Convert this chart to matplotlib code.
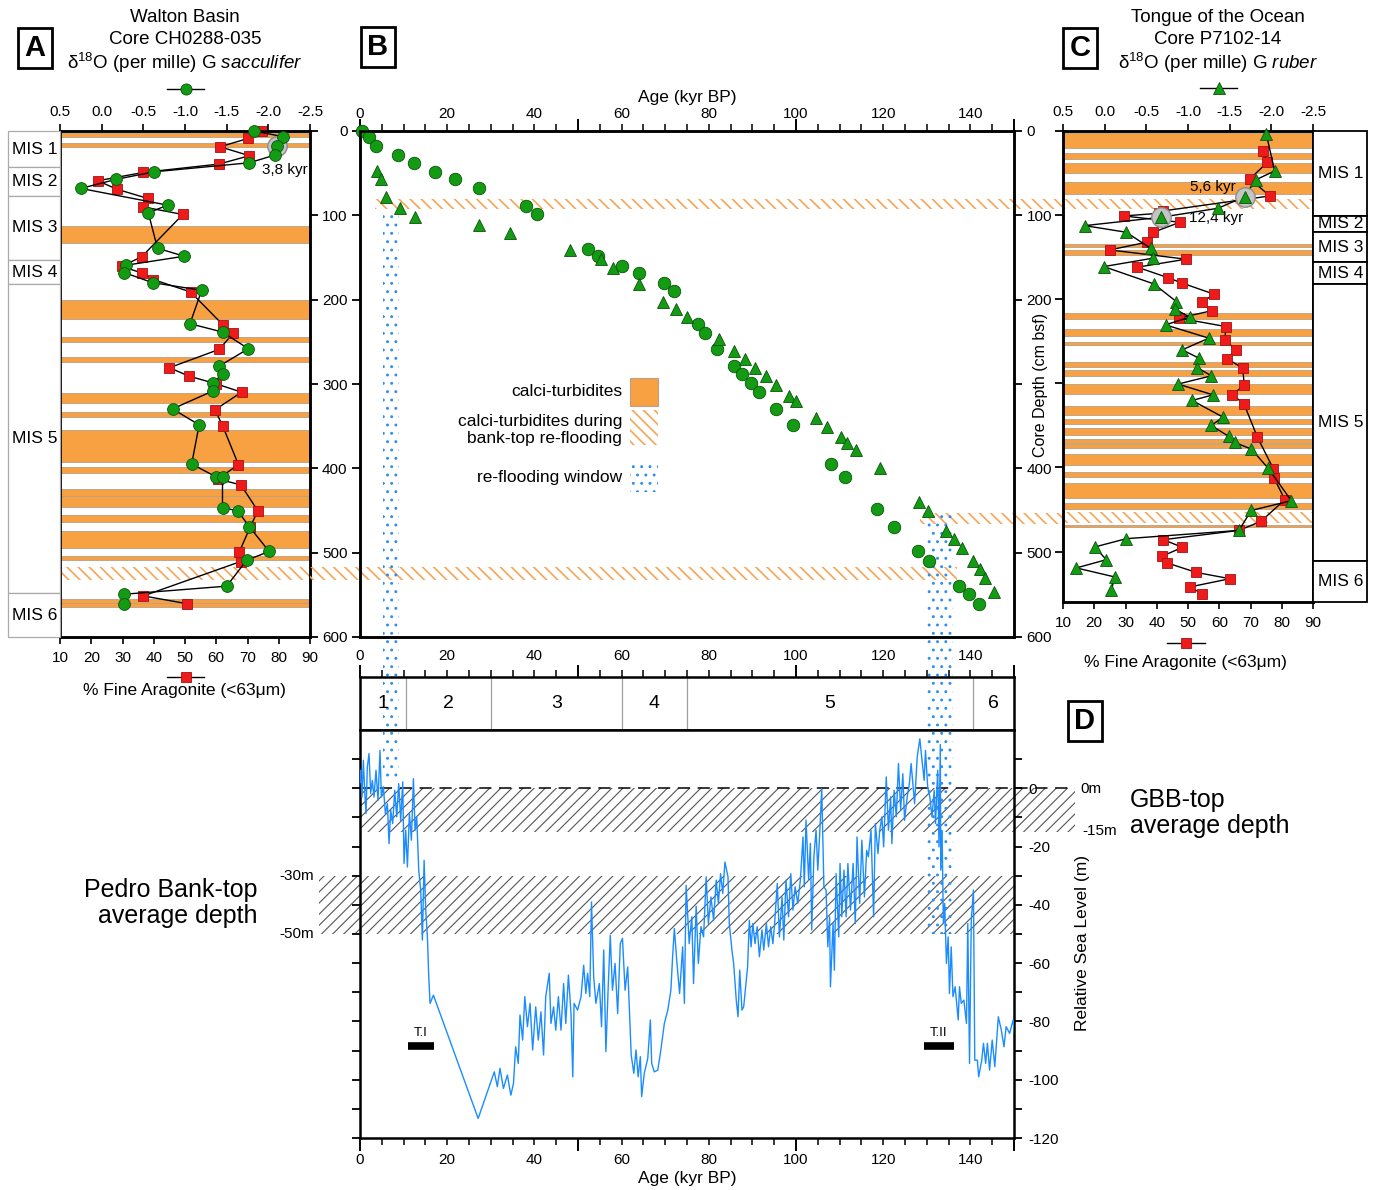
import numpy as np
import matplotlib
matplotlib.use("Agg")
import matplotlib.pyplot as plt
from matplotlib.patches import Rectangle
from matplotlib.lines import Line2D
from matplotlib.ticker import MultipleLocator, FixedLocator, FormatStrFormatter

plt.rcParams['font.family'] = ['Liberation Sans', 'DejaVu Sans']
plt.rcParams['axes.unicode_minus'] = False
plt.rcParams['hatch.linewidth'] = 0.9
plt.rcParams['mathtext.fontset'] = 'custom'
plt.rcParams['mathtext.rm'] = 'Liberation Sans'
plt.rcParams['mathtext.it'] = 'Liberation Sans:italic'
plt.rcParams['xtick.labelsize'] = 11
plt.rcParams['ytick.labelsize'] = 11
plt.rcParams['axes.linewidth'] = 1.6

# ---------------- data ----------------
# panel A, core CH0288-035 (Walton Basin)
a_iso_depth = [0, 6.8, 17.5, 28.5, 37.7, 48.4, 57.4, 68.1, 87.9, 97.1, 139, 148.5, 159.2, 167.9,
               179.8, 188.9, 228.5, 238.4, 258.2, 278.8, 288.7, 298.6, 308.5, 329.5, 348.5, 394.8,
               410, 410.7, 447, 450, 469, 498.6, 508.9, 539.7, 549.3, 560.4]
a_iso = [-1.83, -2.18, -2.10, -2.08, -1.77, -0.63, -0.17, 0.25, -0.79, -0.56, -0.67, -0.99, -0.29,
         -0.27, -0.61, -1.20, -1.06, -1.45, -1.76, -1.41, -1.45, -1.33, -1.33, -0.85, -1.17, -1.08,
         -1.37, -1.45, -1.45, -1.63, -1.77, -2.01, -1.74, -1.50, -0.27, -0.27]
a_arag_depth = [0, 8.7, 18.7, 29.3, 39.2, 49.1, 59, 68.9, 80, 89.9, 99, 149.3, 160.4, 168.3, 176.2,
                190.9, 230.5, 239.6, 259, 280.7, 290.7, 299.7, 309.7, 330.6, 350.1, 395.6, 412.6,
                419.7, 450.3, 470.1, 499.8, 510.5, 551.3, 560.4]
a_arag = [74.7, 70.3, 61.2, 70.6, 60.9, 36.7, 22.1, 28.1, 38.1, 36.5, 49.3, 36.1, 29.7, 36.1, 39.9,
          51.8, 62.3, 65.5, 60.9, 45.0, 51.3, 59.9, 68.1, 59.6, 62.1, 67.1, 60.5, 67.9, 73.3, 70.8,
          67.3, 67.8, 36.7, 50.5]
a_calci = [(2, 7), (14, 19), (113, 133), (200, 223), (244, 250), (268, 274), (311, 322), (333, 339),
           (355, 392), (398, 405), (424.5, 433), (433, 445.5), (455, 464), (474, 495), (504.5, 508.5),
           (555, 560), (560, 565)]
a_mis_names = ['MIS 1', 'MIS 2', 'MIS 3', 'MIS 4', 'MIS 5', 'MIS 6']
a_mis_bounds = [0, 43, 77, 153, 182, 548, 600]

# panel C, core P7102-14 (Tongue of the Ocean)
c_iso_depth = [3.9, 47.5, 58.2, 78.1, 91.9, 102.5, 112.5, 120.4, 139.4, 151.2, 161.2, 181.8, 202.8,
               211.5, 221.3, 230.5, 246.3, 260.2, 270, 281.2, 291.1, 300.9, 313.7, 320.4, 340.2,
               350.1, 363.2, 370.3, 378.2, 400.7, 439.6, 451.1, 474.9, 484.7, 494.6, 509.7, 519.5,
               530.2, 546.2]
c_iso = [-1.94, -2.04, -1.81, -1.68, -1.36, -0.68, 0.24, -0.26, -0.55, -0.58, 0.01, -0.59, -0.86,
         -0.84, -1.02, -0.73, -1.25, -0.93, -1.13, -1.11, -1.28, -0.88, -1.30, -1.05, -1.42, -1.28,
         -1.49, -1.56, -1.76, -1.96, -2.24, -1.76, -1.61, -0.26, 0.12, -0.02, 0.34, -0.12, -0.08]
c_arag_depth = [23.8, 37.2, 57, 77.2, 95, 97.8, 101, 108.5, 120.4, 132.2, 141.4, 152.4, 161.9, 174.3,
                180.9, 194, 203.5, 213.5, 222.5, 232.5, 248.3, 260.2, 270.9, 281.9, 301.8, 313.7,
                324.3, 363.9, 401.6, 412.3, 438.4, 464.2, 474.9, 485.9, 495, 505.8, 513.6, 524.8,
                532.3, 542.1, 550.4]
c_arag = [73.9, 75.4, 69.8, 76.2, 42.1, 40.8, 29.5, 47.4, 38.9, 36.8, 25.0, 49.4, 33.8, 43.5, 48.2,
          58.3, 54.6, 57.8, 47.1, 62.1, 61.8, 65.3, 62.6, 67.5, 68.0, 64.2, 67.9, 72.2, 77.3, 77.5,
          81.0, 73.3, 66.3, 42.1, 48.2, 41.6, 43.4, 52.6, 63.4, 50.6, 54.6]
c_calci = [(2, 20.6), (26, 33), (37.6, 50), (61, 75), (134, 138), (142, 148), (216, 223), (235, 244),
           (251, 255), (275, 280), (284, 291), (301, 313), (327, 338), (343, 348), (353, 362),
           (366, 371), (372, 377), (384, 397), (405, 411), (418, 436), (442, 449), (468, 471)]
c_mis_names = ['MIS 1', 'MIS 2', 'MIS 3', 'MIS 4', 'MIS 5', 'MIS 6']
c_mis_bounds = [0, 101, 120, 156, 182, 511, 560]

# panel B, age models (circles: CH0288-035, triangles: P7102-14)
b_circ_age = [0.4, 2.1, 3.7, 8.7, 12.4, 17.1, 21.8, 27.2, 38.0, 40.6, 52.2, 54.7, 60.1, 64.1, 69.8,
              72.1, 77.6, 79.2, 81.9, 85.7, 87.6, 89.7, 91.6, 95.5, 99.3, 108.1, 111.2, 118.6, 122.4,
              128.0, 130.4, 137.3, 139.7, 141.9]
b_circ_depth = [0, 7.5, 17.5, 28.5, 37.7, 48.4, 57.4, 67.4, 88.7, 98.6, 139.4, 148.5, 160, 167.9,
                179.8, 189.7, 229.3, 239.2, 259, 278.8, 288.7, 298.6, 309, 329.5, 348.5, 394.8,
                410.7, 448.3, 469, 498.6, 509.7, 539.4, 549.2, 560.4]
b_tri_age = [3.8, 4.8, 5.9, 9.2, 12.5, 27.4, 34.4, 48.2, 55.2, 58.1, 63.9, 69.5, 72.5, 75.1, 82.4,
             85.8, 88.4, 90.5, 93.1, 95.5, 98.5, 100.1, 104.7, 107.1, 110.4, 111.8, 113.8, 119.2,
             128.3, 130.2, 134.3, 136.2, 138.1, 140.6, 142.1, 143.3, 145.5]
b_tri_depth = [47.5, 57.4, 78.1, 91.1, 101.8, 111.7, 121.5, 141.4, 151.2, 161.9, 181.8, 202.8, 211.5,
               220.6, 246.3, 261, 270.9, 280.7, 291.1, 300.9, 313.7, 320.4, 340.1, 350.5, 363.2,
               370.3, 378.2, 400, 440.4, 450.3, 474, 483.9, 494.6, 509.7, 519.5, 530.2, 546.2]

# calci-turbidites during bank-top re-flooding (depth top, bottom)
reflood_upper = (81, 93)     # B + C
reflood_lower_a = (517, 533) # A + B
reflood_lower_c = (453, 466) # B + C
# re-flooding windows (kyr)
window_1 = (5.3, 9.0)
window_2 = (130.0, 136.0)

# panel D, relative sea level
sl_age = [0.0, 0.15, 0.46, 0.77, 1.07, 1.38, 1.68, 2.07, 2.45, 2.83, 3.21, 3.67, 4.13, 4.59, 4.90,
          5.36, 5.82, 6.28, 6.66, 7.04, 7.50, 7.96, 8.42, 8.88, 9.34, 9.80, 10.1, 10.49, 10.87,
          11.33, 11.79, 12.25, 12.63, 13.01, 13.47, 13.93, 14.31, 14.70, 15.08, 15.46, 15.77,
          16.07, 16.84, 27.1, 30.8, 31.5, 32.1, 32.9, 33.8, 34.6, 35.2, 35.7, 36.3, 36.7, 37.3,
          37.8, 38.4, 39.0, 39.6, 40.3, 40.9, 41.5, 42.1, 42.6, 43.4, 43.8, 44.4, 44.9, 45.5, 46.1,
          46.7, 47.2, 47.8, 48.4, 48.8, 49.1, 49.9, 50.7, 51.3, 51.8, 52.2, 52.7, 53.1, 53.6, 54.1,
          54.9, 55.4, 55.9, 56.4, 56.9, 57.4, 57.9, 58.5, 59.1, 59.7, 60.2, 60.8, 61.4, 61.8, 62.2,
          62.8, 63.3, 63.8, 64.3, 64.6, 65.2, 66.0, 66.6, 66.9, 67.5, 68.3, 69.0, 69.8, 70.6, 71.3,
          71.7, 72.1, 72.7, 73.3, 74.0, 74.4, 74.8, 75.5, 76.1, 76.5, 77.1, 77.6, 78.2, 78.8, 79.4,
          79.9, 80.5, 81.1, 81.7, 82.2, 82.7, 83.2, 83.7, 84.4, 84.7, 85.3, 85.7, 86.3, 86.7, 87.1,
          87.6, 88.0, 88.6, 88.9, 89.3, 89.7, 90.1, 90.6, 91.1, 91.6, 92.2, 92.6, 93.2, 93.7, 94.2,
          94.7, 95.1, 95.7, 96.2, 96.8, 97.2, 97.7, 98.3, 98.8, 99.3, 99.8, 100.4, 101.0, 101.6,
          101.9, 102.3, 102.9, 103.3, 103.6, 104.1, 104.6, 105.0, 105.4, 105.9, 106.4, 106.9,
          107.3, 107.7, 107.9, 108.5, 108.8, 109.2, 109.8, 110.1, 110.5, 111.0, 111.5, 111.9,
          112.5, 113.1, 113.6, 114.0, 114.6, 115.1, 115.7, 116.2, 116.6, 117.2, 117.8, 118.2,
          118.8, 119.2, 119.7, 120.1, 120.7, 121.2, 121.7, 122.0, 122.5, 123.0, 123.5, 124.0,
          124.5, 124.9, 125.5, 126.0, 126.4, 127.2, 127.8, 128.4, 128.9, 129.4, 129.7, 130.2,
          130.7, 131.2, 131.7, 132.0, 132.5, 132.8, 133.1, 133.2, 133.5, 133.8, 134.1, 134.5,
          134.9, 135.2, 135.6, 136.0, 136.5, 137.2, 137.5, 137.9, 138.5, 139.1, 139.4, 139.8,
          140.2, 140.7, 141.0, 141.6, 141.9, 142.6, 143.0, 143.5, 143.9, 144.4, 145.0, 145.6,
          146.4, 147.1, 147.7, 148.2, 149.0, 149.8, 150.5]
sl_level = [2.0, 6.2, -3.0, 9.6, -0.7, -8.7, 7.3, 11.9, -1.8, 2.7, -3.0, 6.2, -4.1, 13.0, -3.0,
            0.5, -8.7, -5.3, -19.0, -7.5, -12.1, -0.7, -9.8, 1.6, -11.0, 2.2, -25.8, -14.4, -27.0,
            -8.7, -17.8, 3.3, -14.4, -9.8, -28.1, -35.0, -52.1, -24.7, -41.8, -51.0, -64.7,
            -73.8, -71.0, -113.3, -97.3, -102.4, -96.1, -103.0, -98.4, -105.3, -101.3, -88.7, -94.4,
            -77.8, -86.4, -71.5, -81.8, -73.8, -89.8, -75.0, -86.4, -76.7, -91.5, -71.5, -63.5,
            -80.7, -75.0, -83.0, -71.5, -83.0, -67.0, -80.7, -64.1, -77.3, -99.0, -73.8, -76.1,
            -71.5, -60.7, -70.4, -63.5, -71.5, -39.0, -64.7, -73.8, -67.0, -81.8, -55.5, -90.4,
            -69.3, -50.4, -69.3, -60.1, -77.3, -53.3, -51.5, -69.3, -61.3, -76.1, -91.5, -97.8,
            -89.8, -99.0, -92.1, -105.8, -97.8, -92.7, -79.5, -94.4, -97.3, -96.7, -89.8, -80.7,
            -76.1, -69.3, -57.8, -48.1, -60.1, -70.4, -54.4, -73.8, -33.3, -53.3, -44.1, -67.0,
            -40.5, -60.1, -47.5, -51.0, -30.4, -46.4, -37.3, -45.3, -31.5, -39.5, -29.3, -36.1,
            -25.3, -30.4, -46.4, -55.5, -60.1, -72.7, -78.4, -62.4, -76.1, -75.0, -65.8, -61.3,
            -45.3, -54.4, -46.4, -53.3, -47.5, -57.8, -48.6, -55.5, -46.4, -54.4, -47.5, -53.3,
            -46.4, -32.7, -51.0, -37.3, -52.1, -31.5, -44.1, -29.3, -41.8, -33.8, -39.5, -31.5,
            -16.7, -33.8, -10.9, -31.5, -18.9, -48.6, -23.5, -14.4, -28.1, -16.7, -0.1, -33.8,
            -35.0, -54.4, -44.1, -68.1, -46.4, -62.4, -29.3, -51.0, -25.8, -44.1, -28.1, -44.1,
            -25.8, -41.8, -25.8, -46.4, -16.7, -39.5, -17.8, -37.3, -21.3, -23.5, -14.4, -44.1,
            -12.1, -22.4, -14.4, -9.8, -20.1, 3.9, -14.4, -3.0, -19.0, -0.7, -9.8, 8.5, -7.5, 5.0,
            -11.0, -3.0, 1.6, 8.5, -5.3, 10.7, 17.0, 9.6, 2.7, 13.0, 0.5, -3.0, -9.8, -0.7, -12.1,
            6.2, -20.1, 15.0, -28.1, -14.4, -46.4, -39.5, -60.1, -51.0, -70.4, -54.4, -71.5, -68.1,
            -79.5, -68.1, -73.8, -72.7, -80.7, -46.4, -94.4, -45.3, -34.9, -93.3, -93.3, -99.0,
            -93.3, -87.5, -94.4, -87.5, -96.7, -86.4, -95.5, -78.4, -83.0, -88.7, -81.8, -84.1,
            -79.5, -89.8]
mis_stage = ['1', '2', '3', '4', '5', '6']
mis_age_bounds = [0, 10.5, 30, 60, 75, 140.5, 150]
gbb_top, gbb_bottom = 0, -15
pedro_top, pedro_bottom = -30, -50
term_names = ['T.I', 'T.II']
term_start = [11.0, 129.3]
term_end = [17.0, 136.2]
term_level = -88.5

# ---------------- style ----------------
ORANGE = '#f8a143'
HATCH_OR = '#f7a555'
GREEN = '#139c13'
GREEN_E = '#0a520a'
RED = '#ef1b1b'
RED_E = '#a31212'
BLUE = '#1b8cff'
DOTS = '#2b8ef2'
GREY_H = '#555555'
BACK = '\\' * 3

W, H = 1374, 1190
fig = plt.figure(figsize=(W / 100, H / 100), dpi=100)


def rect(x0, y0, x1, y1):
    return [x0 / W, 1 - y1 / H, (x1 - x0) / W, (y1 - y0) / H]


def fp(x, y):
    return (x / W, 1 - y / H)


def hatch_lw(p, lw):
    # per-artist hatch width where the installed matplotlib supports it
    if hasattr(p, 'set_hatch_linewidth'):
        p.set_hatch_linewidth(lw)
    return p


def core_panel(box, dmax, calci, arag, arag_d, iso, iso_d, mk, ms, left_side):
    ax = fig.add_axes(rect(*box))
    ax.set_xlim(10, 90)
    ax.set_ylim(dmax, 0)
    for top, bot in calci:
        ax.axhspan(top, bot, facecolor=ORANGE, edgecolor='#b9a08a', lw=0.6, zorder=1)
    ax.plot(arag, arag_d, '-', color='k', lw=1, zorder=3)
    ax.plot(arag, arag_d, 's', ms=6.5, mfc=RED, mec=RED_E, mew=0.6, zorder=4, clip_on=False)
    ax2 = ax.twiny()
    ax2.set_xlim(0.5, -2.5)
    ax2.plot(iso, iso_d, '-', color='k', lw=1, zorder=3)
    ax2.plot(iso, iso_d, mk, ms=ms, mfc=GREEN, mec=GREEN_E, mew=0.6, zorder=4, clip_on=False)
    ax.xaxis.set_major_locator(MultipleLocator(10))
    ax2.xaxis.set_major_locator(MultipleLocator(0.5))
    ax2.xaxis.set_major_formatter(FormatStrFormatter('%.1f'))
    ax.tick_params(axis='x', direction='out', length=5, width=1.2, pad=5)
    ax2.tick_params(axis='x', direction='out', length=5, width=1.2, pad=4)
    ax.yaxis.set_major_locator(MultipleLocator(100))
    ax.tick_params(axis='y', left=left_side, right=not left_side, labelleft=False,
                   labelright=False, direction='out', length=6, width=1.3)
    for a in (ax, ax2):
        for s in a.spines.values():
            s.set_linewidth(1.8)
    return ax, ax2


def mis_column(box, dmax, bounds, names, edge, lw, tx):
    ax = fig.add_axes(rect(*box))
    ax.set_xlim(0, 1)
    ax.set_ylim(dmax, 0)
    ax.axis('off')
    for i, name in enumerate(names):
        ax.add_patch(Rectangle((0, bounds[i]), 1, bounds[i + 1] - bounds[i], fc='white',
                               ec=edge, lw=lw, clip_on=False))
        ax.text(tx, (bounds[i] + bounds[i + 1]) / 2, name, ha='left', va='center', fontsize=12.5)


def age_axis(ax, side):
    ax.xaxis.set_major_locator(MultipleLocator(50))
    ax.xaxis.set_minor_locator(MultipleLocator(5))
    ax.tick_params(axis='x', which='both', direction='out', bottom=(side == 'bottom'),
                   top=(side == 'top'), labelbottom=False, labeltop=False)
    ax.tick_params(axis='x', which='major', length=9, width=1.4)
    ax.tick_params(axis='x', which='minor', length=5, width=1.1)


def age_labels(ax, side, pad):
    sec = ax.secondary_xaxis(side)
    sec.set_xticks(np.arange(0, 141, 20))
    sec.tick_params(length=0, pad=pad, labelsize=11)
    sec.spines[side].set_visible(False)
    return sec


def box_letter(x, y, s):
    fig.text(*fp(x, y), s, ha='center', va='center', fontsize=21, fontweight='bold',
             bbox=dict(boxstyle='square,pad=0.22', fc='white', ec='k', lw=2))


def legend_key(x0, x1, y, mk, ms, fc, ec):
    fig.add_artist(Line2D([x0 / W, x1 / W], [1 - y / H, 1 - y / H], color='k', lw=1))
    fig.add_artist(Line2D([(x0 + x1) / 2 / W], [1 - y / H], marker=mk, ms=ms, mfc=fc, mec=ec,
                          mew=0.6, lw=0))


def or_hatch(ax, xy, w, h, **kw):
    p = Rectangle(xy, w, h, fc='none', ec=HATCH_OR, hatch=BACK, lw=0, zorder=1, **kw)
    ax.add_patch(hatch_lw(p, 1.2))
    return p


def dots(ax, xy, w, h, **kw):
    p = Rectangle(xy, w, h, fc='none', ec=DOTS, hatch='..', lw=0, **kw)
    ax.add_patch(p)
    return p


# ---------------- panel A ----------------
axA, axA2 = core_panel((60, 131, 310, 637), 600, a_calci, a_arag, a_arag_depth, a_iso,
                       a_iso_depth, 'o', 8.5, False)
or_hatch(axA, (10, reflood_lower_a[0]), 80, reflood_lower_a[1] - reflood_lower_a[0])
axA2.plot(a_iso[2], a_iso_depth[2], 'o', ms=14, mfc='#c4c4c4', mec='#8c8c8c', mew=1, zorder=3.5)
axA2.text(-2.2, 46, '3,8 kyr', ha='center', va='center', fontsize=11)
mis_column((8, 131, 60, 637), 600, a_mis_bounds, a_mis_names, '#aaaaaa', 0.9, 0.07)

# ---------------- panel B ----------------
axB = fig.add_axes(rect(360, 131, 1014, 637))
axB.set_xlim(0, 150)
axB.set_ylim(600, 0)
or_hatch(axB, (3.5, reflood_upper[0]), 161.4 - 3.5, reflood_upper[1] - reflood_upper[0],
         clip_on=False)
or_hatch(axB, (-11.5, reflood_lower_a[0]), 137 + 11.5, reflood_lower_a[1] - reflood_lower_a[0],
         clip_on=False)
or_hatch(axB, (128.5, reflood_lower_c[0]), 161.4 - 128.5, reflood_lower_c[1] - reflood_lower_c[0],
         clip_on=False)
dots(axB, (window_1[0], 95), window_1[1] - window_1[0], 553, clip_on=False, zorder=1)
dots(axB, (window_2[0], 455), window_2[1] - window_2[0], 193, clip_on=False, zorder=1)
axB.plot(b_circ_age, b_circ_depth, 'o', ms=9, mfc=GREEN, mec=GREEN_E, mew=0.6, zorder=4,
         clip_on=False)
axB.plot(b_tri_age, b_tri_depth, '^', ms=9, mfc=GREEN, mec=GREEN_E, mew=0.6, zorder=4,
         clip_on=False)
age_axis(axB, 'top')
secBt = age_labels(axB, 'top', 7)
secBt.set_xlabel('Age (kyr BP)', fontsize=12.5, labelpad=4)
age_labels(axB, 'bottom', 9)
axB.yaxis.set_major_locator(MultipleLocator(100))
axB.tick_params(axis='y', direction='out', length=6, width=1.3, pad=3, left=True, right=False)
axBr = axB.twinx()
axBr.set_ylim(600, 0)
axBr.yaxis.set_major_locator(FixedLocator(np.arange(0, 601, 100)))
axBr.set_yticklabels(['0', '100', '200', '', '400', '500', '600'])
axBr.tick_params(axis='y', direction='out', length=6, width=1.3, pad=3)
for a in (axB, axBr):
    for s in a.spines.values():
        s.set_linewidth(1.8)
fig.text(*fp(1040, 385), 'Core Depth (cm bsf)', rotation=90, ha='center', va='center',
         fontsize=11.5)

# legend of B
tB = axB.transAxes
axB.add_patch(Rectangle((0.4128, 0.4565), 0.0429, 0.0554, transform=tB, fc=ORANGE,
                        ec='#b9a08a', lw=0.8))
or_hatch(axB, (0.4128, 0.3794), 0.0429, 0.0692, transform=tB)
dots(axB, (0.4128, 0.2866), 0.0429, 0.0573, transform=tB)
axB.text(0.4006, 0.4842, 'calci-turbidites', transform=tB, ha='right', va='center', fontsize=12.5)
axB.text(0.4006, 0.4091, 'calci-turbidites during\nbank-top re-flooding', transform=tB,
         ha='right', va='center', fontsize=12.5, linespacing=1.1)
axB.text(0.4006, 0.3162, 're-flooding window', transform=tB, ha='right', va='center',
         fontsize=12.5)

# ---------------- panel C ----------------
axC, axC2 = core_panel((1063, 131, 1313, 602), 560, c_calci, c_arag, c_arag_depth, c_iso,
                       c_iso_depth, '^', 9, True)
or_hatch(axC, (10, reflood_upper[0]), 80, reflood_upper[1] - reflood_upper[0])
or_hatch(axC, (10, reflood_lower_c[0]), 80, reflood_lower_c[1] - reflood_lower_c[0])
for k in (3, 5):
    axC2.plot(c_iso[k], c_iso_depth[k], 'o', ms=14, mfc='#c4c4c4', mec='#8c8c8c', mew=1,
              zorder=3.5)
axC2.text(-1.30, 67, '5,6 kyr', ha='center', va='center', fontsize=11)
axC2.text(-1.34, 103, '12,4 kyr', ha='center', va='center', fontsize=11)
mis_column((1313, 131, 1367, 602), 560, c_mis_bounds, c_mis_names, 'k', 1.3, 0.09)

# ---------------- MIS strip ----------------
axS = fig.add_axes(rect(360, 677, 1014, 730))
axS.set_xlim(0, 150)
axS.set_ylim(0, 1)
axS.set_yticks([])
for b in mis_age_bounds[1:-1]:
    axS.axvline(b, color='#a0a0a0', lw=0.9)
for i, s in enumerate(mis_stage):
    axS.text((mis_age_bounds[i] + mis_age_bounds[i + 1]) / 2, 0.5, s, ha='center', va='center',
             fontsize=14)
age_axis(axS, 'top')
for w in (window_1, window_2):
    dots(axS, (w[0], 0), w[1] - w[0], 1)
for s in axS.spines.values():
    s.set_linewidth(1.8)

# ---------------- panel D ----------------
axD = fig.add_axes(rect(360, 730, 1014, 1138))
axD.set_xlim(0, 150)
axD.set_ylim(-120, 20)
axD.add_patch(hatch_lw(Rectangle((0, gbb_bottom), 164, gbb_top - gbb_bottom, fc='none',
                                 ec=GREY_H, hatch='///', lw=0, clip_on=False, zorder=1), 0.8))
axD.plot([0, 164], [gbb_top, gbb_top], color='k', lw=1.1, ls=(0, (8, 5)), clip_on=False, zorder=2)
axD.add_patch(hatch_lw(Rectangle((-9.4, pedro_bottom), 159.4, pedro_top - pedro_bottom, fc='none',
                                 ec=GREY_H, hatch='///', lw=0, clip_on=False, zorder=1), 0.8))
axD.plot(sl_age, sl_level, color=BLUE, lw=1.0, zorder=3)
dots(axD, (window_1[0], 2), window_1[1] - window_1[0], 18, zorder=4)
dots(axD, (window_2[0], -50), window_2[1] - window_2[0], 70, zorder=4)
for name, t0, t1 in zip(term_names, term_start, term_end):
    axD.plot([t0, t1], [term_level, term_level], color='k', lw=5.5, solid_capstyle='butt')
    axD.text((t0 + t1) / 2, term_level + 4.5, name, ha='center', va='center', fontsize=9.5)
age_axis(axD, 'bottom')
secD = age_labels(axD, 'bottom', 11)
secD.set_xlabel('Age (kyr BP)', fontsize=12.5, labelpad=3)
axD.yaxis.set_major_locator(FixedLocator(np.arange(-120, 1, 20)))
axD.yaxis.set_minor_locator(FixedLocator(np.arange(-110, 11, 20)))
axD.tick_params(axis='y', which='both', left=True, right=True, labelleft=False, labelright=True,
                direction='out', length=6, width=1.3, pad=4)
for s in axD.spines.values():
    s.set_linewidth(1.8)
fig.text(*fp(1083, 943), 'Relative Sea Level (m)', rotation=90, ha='center', va='center',
         fontsize=12.5)
fig.text(*fp(1091, 789), '0m', ha='center', va='center', fontsize=11)
fig.text(*fp(1100, 831), '-15m', ha='center', va='center', fontsize=11)
fig.text(*fp(297, 876), '-30m', ha='center', va='center', fontsize=11)
fig.text(*fp(297, 934), '-50m', ha='center', va='center', fontsize=11)
fig.text(*fp(1130, 813), 'GBB-top\naverage depth', ha='left', va='center', fontsize=18,
         linespacing=1.1)
fig.text(*fp(258, 903), 'Pedro Bank-top\naverage depth', ha='right', va='center', fontsize=18,
         linespacing=1.1)

# ---------------- titles / keys ----------------
fig.text(*fp(185, 17), 'Walton Basin', ha='center', va='center', fontsize=13.5)
fig.text(*fp(185, 40), 'Core CH0288-035', ha='center', va='center', fontsize=13.5)
fig.text(*fp(185, 63), r'$\mathrm{\delta^{18}}$O (per mille) G $\mathit{sacculifer}$',
         ha='center', va='center', fontsize=13.5)
fig.text(*fp(1218, 17), 'Tongue of the Ocean', ha='center', va='center', fontsize=13.5)
fig.text(*fp(1218, 40), 'Core P7102-14', ha='center', va='center', fontsize=13.5)
fig.text(*fp(1218, 63), r'$\mathrm{\delta^{18}}$O (per mille) G $\mathit{ruber}$',
         ha='center', va='center', fontsize=13.5)
fig.text(*fp(184, 691), '% Fine Aragonite (<63\u03bcm)', ha='center', va='center', fontsize=12.5)
fig.text(*fp(1185, 662), '% Fine Aragonite (<63\u03bcm)', ha='center', va='center', fontsize=12.5)
legend_key(167, 204, 89, 'o', 8, GREEN, GREEN_E)
legend_key(167, 204, 677, 's', 6.5, RED, RED_E)
legend_key(1200, 1237, 88, '^', 8, GREEN, GREEN_E)
legend_key(1167, 1205, 643, 's', 6.5, RED, RED_E)
box_letter(35, 48, 'A')
box_letter(378, 47, 'B')
box_letter(1080, 48, 'C')
box_letter(1085, 721, 'D')

fig.savefig('out.png', dpi=100)
